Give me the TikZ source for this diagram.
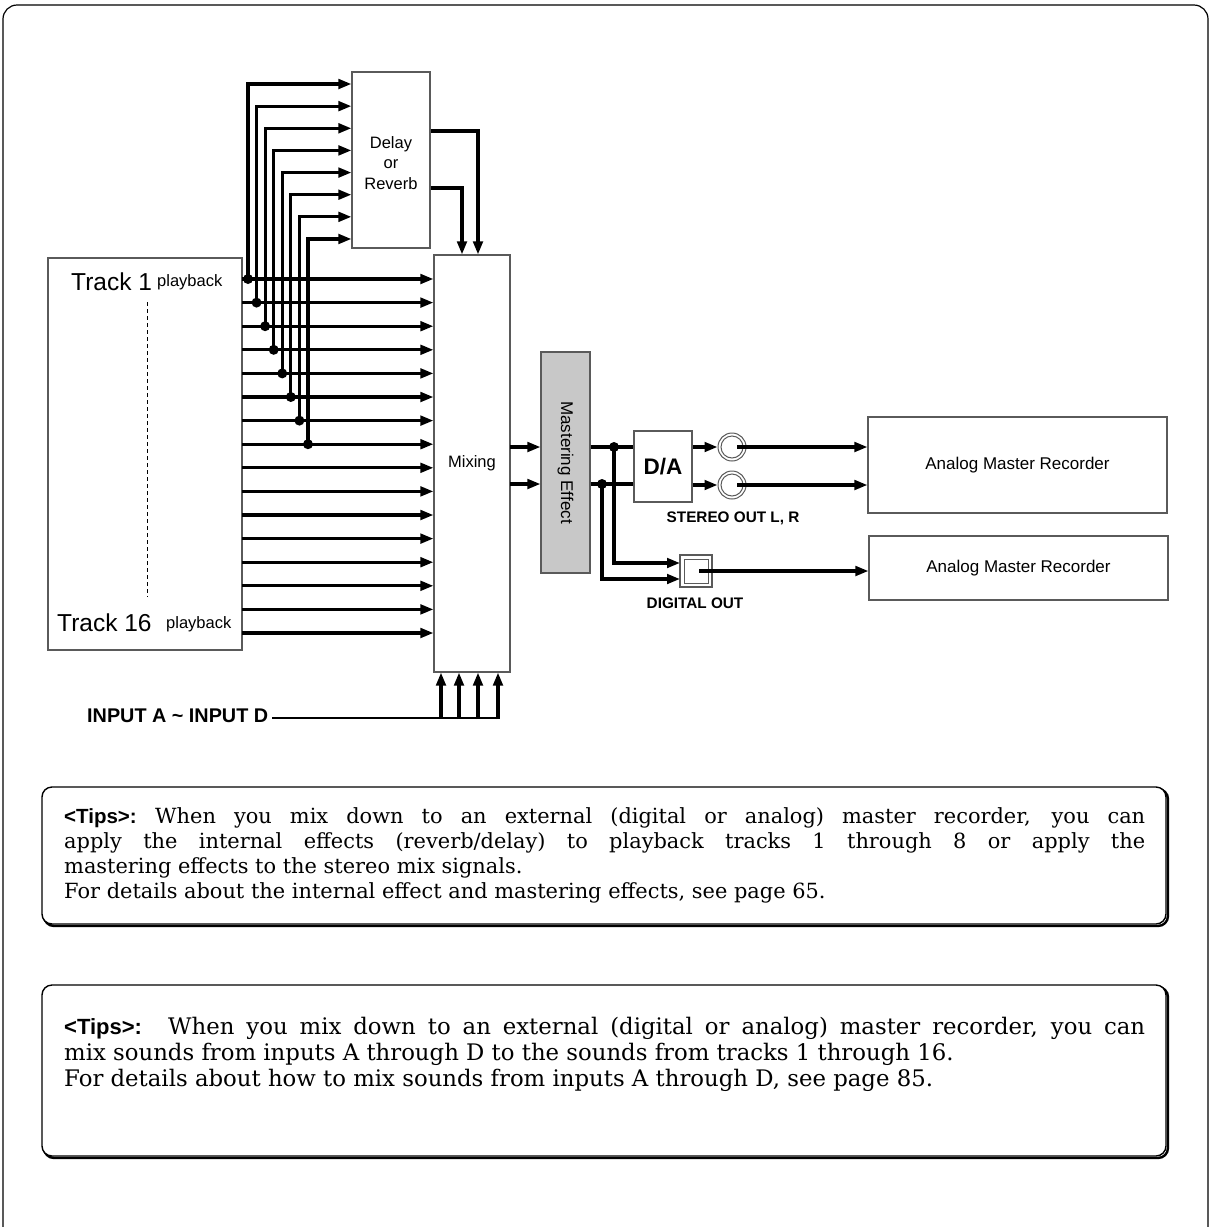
\documentclass[tikz,border=0pt]{standalone}
\usepackage{fontspec}
\setmainfont{DejaVu Serif}
\newfontfamily\hel{Liberation Sans}
\usetikzlibrary{arrows.meta}
\definecolor{boxc}{RGB}{90,90,90}
\definecolor{mfill}{RGB}{200,200,200}
\tikzset{
  blk/.style={draw=boxc, line width=1.1pt, inner sep=0pt, fill=white},
  sig/.style={line width=3.1pt, -{Triangle[length=13pt,width=9.5pt]}},
  wire/.style={line width=3.1pt},
  jdot/.style={circle, fill=black, inner sep=0pt, minimum size=10pt},
  lbl/.style={font=\hel\fontsize{16.5}{20.5}\selectfont, align=center},
  blbl/.style={font=\hel\bfseries\fontsize{15.3}{17}\selectfont, inner sep=0pt},
  tipbox/.style={draw, line width=1.4pt, rounded corners=10pt, fill=white},
  tipshadow/.style={draw, line width=2.4pt, rounded corners=10pt},
  tiptxt/.style={font=\fontsize{20.9}{25}\selectfont, anchor=base west, inner sep=0pt},
  tiphead/.style={font=\hel\bfseries\fontsize{20.5}{25}\selectfont, anchor=base west, inner sep=0pt},
  tiptxtb/.style={font=\fontsize{22.8}{26}\selectfont, anchor=base west, inner sep=0pt},
  tipheadb/.style={font=\hel\bfseries\fontsize{22}{26}\selectfont, anchor=base west, inner sep=0pt},
}
\begin{document}
\begin{tikzpicture}[x=1pt,y=-1pt]
\useasboundingbox (0,0) rectangle (1211,1227);
\draw[line width=1.2pt, rounded corners=14pt] (3,1227) -- (3,5) -- (1208,5) -- (1208,1227);

% blocks
\node[blk, minimum width=194pt, minimum height=392pt] (trk) at (145,454) {};
\node[font=\hel\fontsize{24.5}{26}\selectfont, anchor=base west, inner sep=0pt] (tr1) at (71,290) {Track 1};
\node[font=\hel\fontsize{16.5}{18}\selectfont, anchor=base west, inner sep=0pt] (pb1) at (157,286) {playback};
\node[font=\hel\fontsize{24.5}{26}\selectfont, anchor=base west, inner sep=0pt] (tr16) at (57,631) {Track 16};
\node[font=\hel\fontsize{16.5}{18}\selectfont, anchor=base west, inner sep=0pt] (pb16) at (166,628) {playback};
\draw[line width=0.8pt, dash pattern=on 4pt off 3pt] (147,302) -- (147,597);

\node[blk, minimum width=76pt, minimum height=417pt, lbl] (mix) at (472,463.5) {Mixing};
\node[blk, minimum width=78pt, minimum height=176pt] (dly) at (391,160) {};
\node[lbl] (dlyt) at (391,163) {Delay\\or\\Reverb};
\node[draw=boxc, fill=mfill, line width=1.1pt, minimum width=49pt, minimum height=221pt, inner sep=0pt] (mst) at (565.5,462.5) {};
\node[lbl, font=\hel\fontsize{17}{20}\selectfont, rotate=-90] (mstt) at (mst.center) {Mastering Effect};
\node[blk, minimum width=58pt, minimum height=71pt, font=\hel\bfseries\fontsize{22.5}{24}\selectfont] (da) at (663,466.5) {D/A};
\node[blk, minimum size=32pt] (dig) at (696,571) {};
\node[draw=boxc, line width=1pt, minimum size=24pt, inner sep=0pt] (digi) at (dig.center) {};
\node[circle, draw=boxc, line width=1pt, minimum size=28pt, inner sep=0pt, fill=white] (jl) at (732,447) {};
\node[circle, draw=boxc, line width=1pt, minimum size=22pt, inner sep=0pt] (jli) at (jl.center) {};
\node[circle, draw=boxc, line width=1pt, minimum size=28pt, inner sep=0pt, fill=white] (jr) at (732,485) {};
\node[circle, draw=boxc, line width=1pt, minimum size=22pt, inner sep=0pt] (jri) at (jr.center) {};
\node[blk, minimum width=299pt, minimum height=96pt, font=\hel\fontsize{17}{19}\selectfont] (rec1) at (1017.5,465) {Analog Master Recorder};
\node[blk, minimum width=299pt, minimum height=64pt, font=\hel\fontsize{17}{19}\selectfont] (rec2) at (1018.5,568) {Analog Master Recorder};

% track lines
\foreach \i in {1,...,16}{
  \pgfmathsetmacro\ty{279+(\i-1)*23.6}
  \coordinate (ts\i) at (242,\ty);
  \draw[sig] (ts\i) -- (ts\i -| mix.west);
}
% taps to delay
\foreach \i in {1,...,8}{
  \pgfmathsetmacro\tx{248+(\i-1)*8.57}
  \pgfmathsetmacro\dy{84+(\i-1)*22.14}
  \coordinate (tp\i) at (\tx,\dy);
  \draw[sig] (ts\i -| tp\i) -- (tp\i) -- (tp\i -| dly.west);
  \node[jdot] (dt\i) at (ts\i -| tp\i) {};
}
% delay outputs
\coordinate (do1) at (478,131);
\coordinate (do2) at (462,188);
\draw[sig] (dly.east |- do1) -- (do1) -- (do1 |- mix.north);
\draw[sig] (dly.east |- do2) -- (do2) -- (do2 |- mix.north);
% mix outputs
\coordinate (mo1) at (510,447);
\coordinate (mo2) at (510,484);
\draw[sig] (mo1) -- (mo1 -| mst.west);
\draw[sig] (mo2) -- (mo2 -| mst.west);
% mastering to D/A
\draw[wire] (mst.east |- mo1) -- (da.west |- mo1);
\draw[wire] (mst.east |- mo2) -- (da.west |- mo2);
\node[jdot] (b1) at (614,447) {};
\node[jdot] (b2) at (602,484) {};
\coordinate (di1) at (680,563);
\coordinate (di2) at (680,579);
\draw[sig] (b1.center) |- (di1);
\draw[sig] (b2.center) |- (di2);
% D/A to jacks to recorder
\draw[sig] (da.east |- jl) -- (jl.west);
\draw[sig] (da.east |- jr) -- (jr.west);
\draw[sig] ([xshift=5pt]jl.center) -- (jl -| rec1.west);
\draw[sig] ([xshift=5pt]jr.center) -- (jr -| rec1.west);
\draw[sig] ([xshift=3pt]dig.center) -- (dig -| rec2.west);

\node[blbl] (so) at (733,518) {STEREO OUT L, R};
\node[blbl] (dgo) at (695,603) {DIGITAL OUT};

% inputs
\node[font=\hel\bfseries\fontsize{19.8}{21}\selectfont, anchor=west, inner sep=0pt] (inp) at (87,716) {INPUT A \textasciitilde{} INPUT D};
\coordinate (ia) at (441,718);
\coordinate (ib) at (459,718);
\coordinate (ic) at (478,718);
\coordinate (id) at (498,718);
\draw[line width=2pt] ([xshift=4pt]inp.east |- ia) -- (id);
\foreach \n in {ia,ib,ic,id}{
  \draw[sig] ([yshift=-1pt]\n) -- (\n |- mix.south);
}

% tips boxes
\draw[tipshadow] (44,789) rectangle (1168,926);
\draw[tipbox] (42,787) rectangle (1166,924);
\node[tiphead] (h1) at (64,823) {<Tips>:};
\node[tiptxt] (l11) at (155,823) {\makebox[990pt][s]{When you mix down to an external (digital or analog) master recorder, you can}};
\node[tiptxt] (l12) at (64,848) {\makebox[1081pt][s]{apply the internal effects (reverb/delay) to playback tracks 1 through 8 or apply the}};
\node[tiptxt] (l13) at (64,873) {mastering effects to the stereo mix signals.};
\node[tiptxt] (l14) at (64,898) {For details about the internal effect and mastering effects, see page 65.};

\draw[tipshadow] (44,987) rectangle (1168,1158);
\draw[tipbox] (42,985) rectangle (1166,1156);
\node[tipheadb] (h2) at (64,1034) {<Tips>:};
\node[tiptxtb] (l21) at (168,1034) {\makebox[977pt][s]{When you mix down to an external (digital or analog) master recorder, you can}};
\node[tiptxtb] (l22) at (64,1060) {mix sounds from inputs A through D to the sounds from tracks 1 through 16.};
\node[tiptxtb] (l23) at (64,1086) {For details about how to mix sounds from inputs A through D, see page 85.};
\end{tikzpicture}
\end{document}
